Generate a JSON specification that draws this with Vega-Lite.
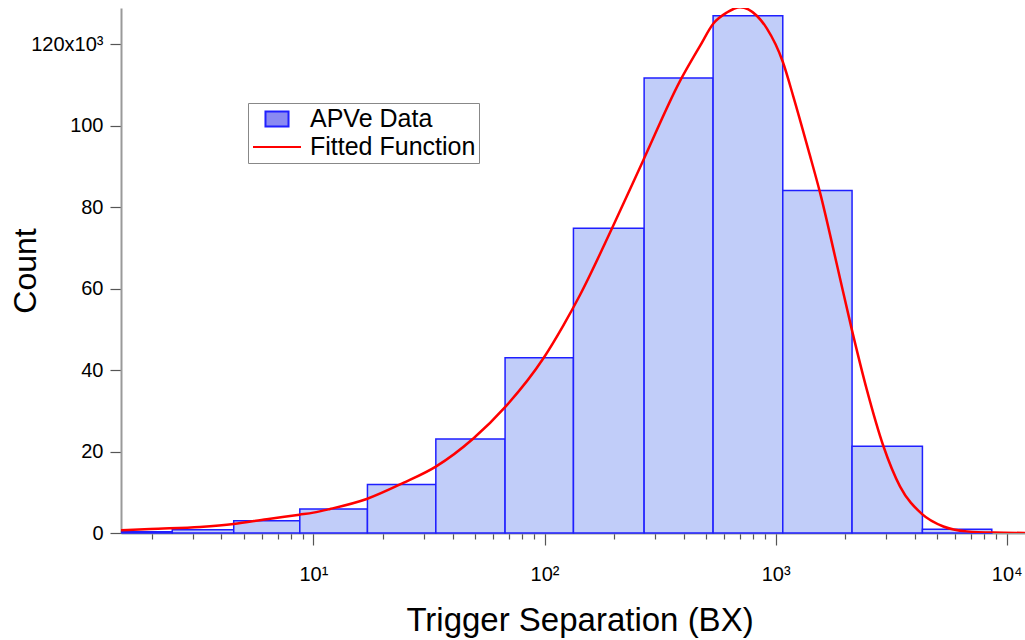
{
  "$schema": "https://vega.github.io/schema/vega-lite/v6.json",
  "width": 904,
  "height": 525,
  "autosize": {"type": "none"},
  "padding": {"left": 121, "top": 8, "right": 0, "bottom": 107},
  "background": "white",
  "config": {"view": {"stroke": null}, "font": "Liberation Sans"},
  "datasets": {
    "bars": [
      {"lo": 1.48, "hi": 2.45, "count": 0.3},
      {"lo": 2.45, "hi": 4.52, "count": 0.8},
      {"lo": 4.52, "hi": 8.73, "count": 3.0},
      {"lo": 8.73, "hi": 17.13, "count": 5.9},
      {"lo": 17.13, "hi": 33.86, "count": 11.9},
      {"lo": 33.86, "hi": 67.5, "count": 23.1},
      {"lo": 67.5, "hi": 133.4, "count": 43.0},
      {"lo": 133.4, "hi": 269.8, "count": 74.8},
      {"lo": 269.8, "hi": 536.4, "count": 111.7},
      {"lo": 536.4, "hi": 1074, "count": 127.0},
      {"lo": 1074, "hi": 2142, "count": 84.1},
      {"lo": 2142, "hi": 4318, "count": 21.3},
      {"lo": 4318, "hi": 8620, "count": 0.9}
    ],
    "fit": [
      {"sep": 1.47, "fit": 0.65},
      {"sep": 1.966, "fit": 1.0},
      {"sep": 3.23, "fit": 1.5},
      {"sep": 4.51, "fit": 2.2},
      {"sep": 6.28, "fit": 3.4},
      {"sep": 8.7, "fit": 4.5},
      {"sep": 10, "fit": 5.0},
      {"sep": 11.81, "fit": 5.9},
      {"sep": 17.0, "fit": 8.35},
      {"sep": 24.5, "fit": 12.3},
      {"sep": 33.85, "fit": 16.3},
      {"sep": 49.2, "fit": 23.2},
      {"sep": 67.5, "fit": 30.9},
      {"sep": 98.9, "fit": 42.9},
      {"sep": 120.7, "fit": 51.0},
      {"sep": 142.6, "fit": 58.5},
      {"sep": 195.5, "fit": 74.7},
      {"sep": 267.9, "fit": 91.6},
      {"sep": 386, "fit": 111.0},
      {"sep": 471, "fit": 119.6},
      {"sep": 538, "fit": 125.1},
      {"sep": 615, "fit": 127.8},
      {"sep": 702, "fit": 129.1},
      {"sep": 829, "fit": 127.0},
      {"sep": 916, "fit": 123.9},
      {"sep": 1074, "fit": 115.7},
      {"sep": 1194, "fit": 107.1},
      {"sep": 1387, "fit": 94.0},
      {"sep": 1558, "fit": 83.5},
      {"sep": 1840, "fit": 66.0},
      {"sep": 2136, "fit": 50.0},
      {"sep": 2481, "fit": 35.2},
      {"sep": 2928, "fit": 21.3},
      {"sep": 3457, "fit": 11.4},
      {"sep": 4292, "fit": 4.7},
      {"sep": 5322, "fit": 1.6},
      {"sep": 6720, "fit": 0.4},
      {"sep": 8759, "fit": 0.1},
      {"sep": 12000, "fit": 0.02}
    ],
    "legend": [
      {"series": "APVe Data"},
      {"series": "Fitted Function"}
    ]
  },
  "layer": [
    {
      "data": {"name": "bars"},
      "mark": {"type": "bar", "fill": "#c1cdf9", "stroke": "#1f1fff", "strokeWidth": 1.5, "opacity": 1},
      "encoding": {
        "x": {
          "field": "lo",
          "type": "quantitative",
          "scale": {"type": "log", "domain": [1.47, 12000], "nice": false},
          "axis": {
            "values": [2,3,4,5,6,7,8,9,10,20,30,40,50,60,70,80,90,100,200,300,400,500,600,700,800,900,1000,2000,3000,4000,5000,6000,7000,8000,9000,10000],
            "labelExpr": "datum.value == 10 ? '10¹' : datum.value == 100 ? '10²' : datum.value == 1000 ? '10³' : datum.value == 10000 ? '10⁴' : ''",
            "tickSize": {"condition": {"test": "datum.value == 10 || datum.value == 100 || datum.value == 1000 || datum.value == 10000", "value": 12}, "value": 6},
            "tickColor": "#555555",
            "tickWidth": 1.2,
            "domainColor": "#999999",
            "domainWidth": 2,
            "labelFontSize": 20,
            "labelColor": "black",
            "labelPadding": 19,
            "labelFlush": false,
            "labelOverlap": false,
            "grid": false,
            "title": "Trigger Separation (BX)",
            "titleFontSize": 33,
            "titleFontWeight": "normal",
            "titleColor": "black",
            "titleX": 458.5,
            "titleY": 97,
            "titleBaseline": "alphabetic"
          }
        },
        "x2": {"field": "hi"},
        "y": {
          "field": "count",
          "type": "quantitative",
          "scale": {"domain": [0, 128.9], "nice": false},
          "axis": {
            "values": [0, 20, 40, 60, 80, 100, 120],
            "labelExpr": "datum.value == 120 ? '120x10³' : datum.label",
            "tickSize": 11,
            "tickColor": "#555555",
            "tickWidth": 1.2,
            "domainColor": "#999999",
            "domainWidth": 2,
            "labelFontSize": 20,
            "labelColor": "black",
            "labelPadding": 7,
            "grid": false,
            "title": "Count",
            "titleFontSize": 32,
            "titleFontWeight": "normal",
            "titleColor": "black",
            "titleX": -86,
            "titleBaseline": "alphabetic"
          }
        },
        "y2": {"datum": 0}
      }
    },
    {
      "data": {"name": "fit"},
      "mark": {"type": "line", "stroke": "#ff0000", "strokeWidth": 2.5, "interpolate": "monotone", "clip": true},
      "encoding": {
        "x": {"field": "sep", "type": "quantitative"},
        "y": {"field": "fit", "type": "quantitative"}
      }
    },
    {
      "data": {"name": "legend"},
      "mark": {"type": "point", "opacity": 0, "strokeWidth": 2},
      "encoding": {
        "shape": {
          "field": "series",
          "type": "nominal",
          "scale": {"domain": ["APVe Data", "Fitted Function"], "range": ["M-0.96,-0.62H0.96V0.62H-0.96Z", "M-2,0H2"]},
          "legend": {
            "orient": "none", "legendX": 127, "legendY": 95, "title": null,
            "labelFontSize": 25, "labelColor": "black", "labelLimit": 400, "symbolSize": 576, "symbolOffset": 13, "labelOffset": 20,
            "padding": 3, "rowPadding": 2, "strokeColor": "#888888", "fillColor": "white", "symbolOpacity": 1, "symbolStrokeWidth": 2
          }
        },
        "fill": {
          "field": "series",
          "type": "nominal",
          "scale": {"domain": ["APVe Data", "Fitted Function"], "range": ["#8a8af2", "transparent"]},
          "legend": {
            "orient": "none", "legendX": 127, "legendY": 95, "title": null,
            "labelFontSize": 25, "labelColor": "black", "labelLimit": 400, "symbolSize": 576, "symbolOffset": 13, "labelOffset": 20,
            "padding": 3, "rowPadding": 2, "strokeColor": "#888888", "fillColor": "white", "symbolOpacity": 1, "symbolStrokeWidth": 2
          }
        },
        "stroke": {
          "field": "series",
          "type": "nominal",
          "scale": {"domain": ["APVe Data", "Fitted Function"], "range": ["#2020ff", "#ff0000"]},
          "legend": {
            "orient": "none", "legendX": 127, "legendY": 95, "title": null,
            "labelFontSize": 25, "labelColor": "black", "labelLimit": 400, "symbolSize": 576, "symbolOffset": 13, "labelOffset": 20,
            "padding": 3, "rowPadding": 2, "strokeColor": "#888888", "fillColor": "white", "symbolOpacity": 1, "symbolStrokeWidth": 2
          }
        }
      }
    }
  ]
}
